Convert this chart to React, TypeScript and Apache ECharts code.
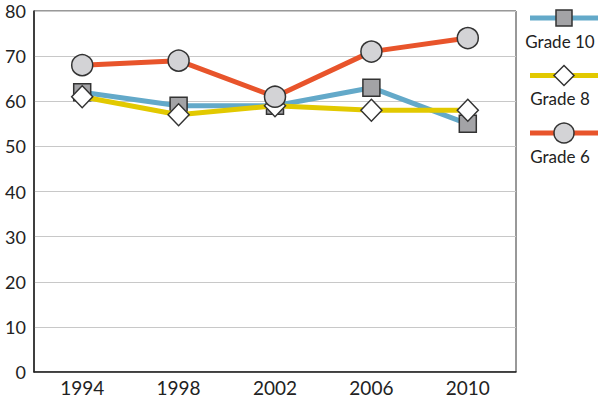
import React, { useEffect, useRef } from "react";
import * as echarts from "echarts";

const years = ["1994", "1998", "2002", "2006", "2010"];
const seriesNames = ["Grade 10", "Grade 8", "Grade 6"];
const grade10 = [62, 59, 59, 63, 55];
const grade8 = [61, 57, 59, 58, 58];
const grade6 = [68, 69, 61, 71, 74];

const lineColors = ["#63a9c9", "#e2c900", "#e8542b"];
const symbols = ["rect", "diamond", "circle"];
const symbolSizes: any[] = [17, [21, 22], 21];
const symbolFills = ["#a3a3a6", "#ffffff", "#d3d3d6"];
const FONT = "Lato, 'Open Sans', sans-serif";

export default function App() {
  const ref = useRef<HTMLDivElement>(null);
  useEffect(() => {
    document.body.style.margin = "0";
    const chart = echarts.init(ref.current!, null, { renderer: "svg" });
    const data = [grade10, grade8, grade6];
    const legendGraphics: any[] = [];
    seriesNames.forEach((name, i) => {
      const cy = 18 + 57.5 * i;
      legendGraphics.push({
        type: "line",
        shape: { x1: 530, y1: cy, x2: 598, y2: cy },
        style: { stroke: lineColors[i], lineWidth: 5 },
      });
      legendGraphics.push({
        type: "text",
        x: 560,
        y: cy + 23,
        style: {
          text: name,
          font: `17px ${FONT}`,
          fill: "#222",
          textAlign: "center",
          textVerticalAlign: "middle",
        },
      });
    });
    legendGraphics.push({
      type: "rect",
      shape: { x: 556, y: 18 - 8, width: 16, height: 16 },
      style: { fill: symbolFills[0], stroke: "#333", lineWidth: 1.5 },
    });
    const dy = 18 + 57.5;
    legendGraphics.push({
      type: "polygon",
      shape: {
        points: [
          [564, dy - 10],
          [574, dy],
          [564, dy + 10],
          [554, dy],
        ],
      },
      style: { fill: symbolFills[1], stroke: "#333", lineWidth: 1.5 },
    });
    legendGraphics.push({
      type: "circle",
      shape: { cx: 564, cy: 18 + 115, r: 10 },
      style: { fill: symbolFills[2], stroke: "#333", lineWidth: 1.5 },
    });

    chart.setOption({
      animation: false,
      backgroundColor: "#ffffff",
      grid: {
        left: 34,
        right: 84,
        top: 11,
        bottom: 29,
        show: true,
        borderColor: "#333",
        borderWidth: 1,
      },
      xAxis: {
        type: "category",
        data: years,
        boundaryGap: true,
        axisLine: { show: true, lineStyle: { color: "#222", width: 1.5 } },
        axisTick: { show: false },
        axisLabel: {
          color: "#222",
          fontSize: 19,
          fontFamily: FONT,
          margin: 6,
        },
      },
      yAxis: {
        type: "value",
        min: 0,
        max: 80,
        interval: 10,
        axisLine: { show: true, lineStyle: { color: "#222", width: 1.5 } },
        axisTick: { show: false },
        splitLine: { lineStyle: { color: "#c8c8c8", width: 1 } },
        axisLabel: {
          color: "#222",
          fontSize: 18,
          fontFamily: FONT,
          margin: 8,
        },
      },
      graphic: legendGraphics,
      series: seriesNames.map((name, i) => ({
        name,
        type: "line",
        data: data[i],
        symbol: symbols[i],
        symbolSize: symbolSizes[i],
        showSymbol: true,
        lineStyle: { color: lineColors[i], width: 5 },
        itemStyle: {
          color: symbolFills[i],
          borderColor: "#333",
          borderWidth: 1.5,
        },
        z: 2 + i,
      })),
    });
    return () => chart.dispose();
  }, []);
  return (
    <div
      ref={ref}
      style={{ width: 600, height: 401, position: "absolute", left: 0, top: 0 }}
    />
  );
}
